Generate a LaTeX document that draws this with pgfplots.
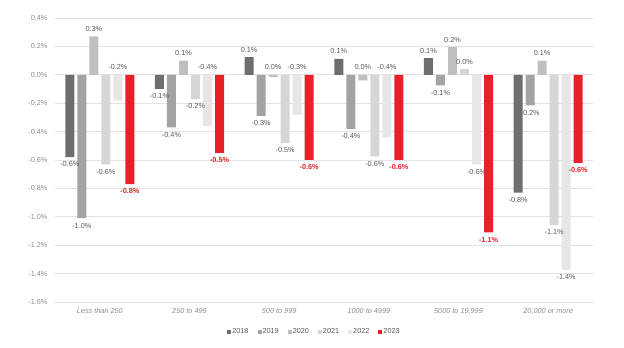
\documentclass[border=0pt]{standalone}
\usepackage{fontspec}
\setmainfont{Liberation Sans}
\usepackage{pgfplots}
\pgfplotsset{compat=1.18}
\definecolor{c18}{HTML}{6E6E6E}
\definecolor{c19}{HTML}{A3A3A3}
\definecolor{c20}{HTML}{BFBFBF}
\definecolor{c21}{HTML}{D6D6D6}
\definecolor{c22}{HTML}{E6E6E6}
\definecolor{c23}{HTML}{E8202A}
\definecolor{gridc}{HTML}{E4E4E4}
\definecolor{tickc}{HTML}{8C8C8C}
\definecolor{labc}{HTML}{595959}
\newcommand{\sm}{\fontsize{7.3}{8.8}\selectfont}
\begin{document}
\begin{tikzpicture}
\path[use as bounding box] (0,0) rectangle (624pt,348pt);
\begin{axis}[
  at={(55pt,46pt)}, anchor=south west,
  scale only axis, width=538pt, height=284pt,
  ybar, bar width=0.1,
  xmin=-0.5, xmax=5.5, ymin=-1.6, ymax=0.4,
  axis line style={draw=none},
  tick style={draw=none}, major tick length=0pt,
  ymajorgrids, grid style={color=gridc, line width=0.6pt},
  ytick={-1.6,-1.4,-1.2,-1,-0.8,-0.6,-0.4,-0.2,0,0.2,0.4},
  yticklabels={-1.6\%,-1.4\%,-1.2\%,-1.0\%,-0.8\%,-0.6\%,-0.4\%,-0.2\%,0.0\%,0.2\%,0.4\%},
  xtick={0,1,2,3,4,5},
  xticklabels={Less than 250, 250 to 499, 500 to 999, 1000 to 4999, {5000 to 19,999}, {20,000 or more}},
  xticklabel style={font=\itshape\sm, text=tickc, yshift=-3pt},
  yticklabel style={font=\sm, text=tickc, xshift=-4pt},
  legend columns=6,
  legend style={at={(0.4814,-0.105)}, anchor=center, draw=none, fill=none,
    font=\sm, text=labc,
    /tikz/every even column/.append style={column sep=8pt},
    nodes={inner sep=1pt}},
  legend image code/.code={\fill[#1] (0pt,-2pt) rectangle (4pt,2pt);},
]
\addplot[fill=c18, draw=none, bar shift=-0.335] coordinates {(0,-0.58) (1,-0.10) (2,0.125) (3,0.113) (4,0.118) (5,-0.83)};
\addlegendentry{2018}
\addplot[fill=c19, draw=none, bar shift=-0.201] coordinates {(0,-1.01) (1,-0.37) (2,-0.29) (3,-0.38) (4,-0.075) (5,-0.216)};
\addlegendentry{2019}
\addplot[fill=c20, draw=none, bar shift=-0.067] coordinates {(0,0.27) (1,0.10) (2,-0.016) (3,-0.04) (4,0.195) (5,0.10)};
\addlegendentry{2020}
\addplot[fill=c21, draw=none, bar shift=0.067] coordinates {(0,-0.63) (1,-0.17) (2,-0.48) (3,-0.575) (4,0.04) (5,-1.056)};
\addlegendentry{2021}
\addplot[fill=c22, draw=none, bar shift=0.201] coordinates {(0,-0.18) (1,-0.36) (2,-0.28) (3,-0.44) (4,-0.63) (5,-1.373)};
\addlegendentry{2022}
\addplot[fill=c23, draw=none, bar shift=0.335] coordinates {(0,-0.77) (1,-0.55) (2,-0.60) (3,-0.60) (4,-1.11) (5,-0.62)};
\addlegendentry{2023}
% data labels above (gray)
\addplot[forget plot, draw=none, fill=none, bar width=0.001, bar shift=0,
  point meta=explicit symbolic, nodes near coords={\pgfplotspointmeta\%},
  nodes near coords style={font=\sm, text=labc, inner sep=4.5pt, anchor=south}]
  table[meta=l] {
x y l
-0.067 0.27 0.3
0.201 0.001 -0.2
0.933 0.10 0.1
1.201 0.001 -0.4
1.665 0.125 0.1
1.933 0.001 0.0
2.201 0.001 -0.3
2.665 0.113 0.1
2.933 0.001 0.0
3.201 0.001 -0.4
3.665 0.118 0.1
3.933 0.195 0.2
4.067 0.04 0.0
4.933 0.10 0.1
};
% data labels below (gray)
\addplot[forget plot, draw=none, fill=none, bar width=0.001, bar shift=0,
  point meta=explicit symbolic, nodes near coords={\pgfplotspointmeta\%},
  nodes near coords style={font=\sm, text=labc, inner sep=4.5pt, anchor=north}]
  table[meta=l] {
x y l
-0.335 -0.58 -0.6
-0.201 -1.01 -1.0
0.067 -0.63 -0.6
0.665 -0.10 -0.1
0.799 -0.37 -0.4
1.067 -0.17 -0.2
1.799 -0.29 -0.3
2.067 -0.48 -0.5
2.799 -0.38 -0.4
3.067 -0.575 -0.6
3.799 -0.075 -0.1
4.201 -0.63 -0.6
4.665 -0.83 -0.8
4.799 -0.216 -0.2
5.067 -1.056 -1.1
5.201 -1.373 -1.4
};
% data labels (red)
\addplot[forget plot, draw=none, fill=none, bar width=0.001, bar shift=0,
  point meta=explicit symbolic, nodes near coords={\pgfplotspointmeta\%},
  nodes near coords style={font=\bfseries\sm, text=c23, inner sep=4.5pt, anchor=north}]
  table[meta=l] {
x y l
0.335 -0.77 -0.8
1.335 -0.55 -0.5
2.335 -0.60 -0.6
3.335 -0.60 -0.6
4.335 -1.11 -1.1
5.335 -0.62 -0.6
};
\end{axis}
\end{tikzpicture}
\end{document}
